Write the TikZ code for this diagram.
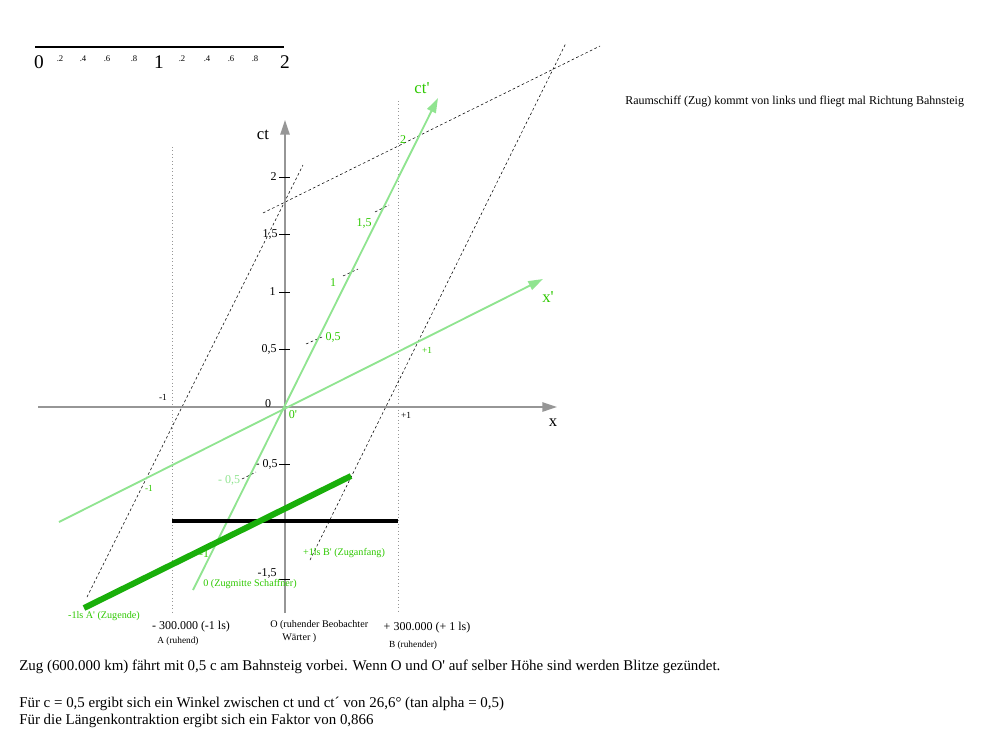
\documentclass[tikz,border=0pt]{standalone}
\usepackage{fontspec}
\setmainfont{Liberation Serif}
\newfontfamily\qfont{Liberation Serif}[Ligatures=TeXOff]
\usetikzlibrary{arrows.meta}
\definecolor{axgray}{RGB}{150,150,150}
\definecolor{lgreen}{RGB}{144,228,144}
\definecolor{tgreen}{RGB}{45,200,0}
\definecolor{dgreen}{RGB}{25,175,10}
\newcommand\sq{{\qfont'}}
\begin{document}
\begin{tikzpicture}[x=0.75pt,y=-0.75pt,
  every node/.style={inner sep=0pt},
  axis/.style={draw=axgray,line width=1.2pt,-{Triangle[length=11pt,width=7pt]}},
  gaxis/.style={draw=lgreen,line width=1.4pt,-{Triangle[length=11pt,width=7pt]}},
  simline/.style={draw=black,line width=0.4pt,dash pattern=on 2pt off 1.8pt},
  vdot/.style={draw=axgray,line width=0.6pt,dotted},
  tick/.style={draw=black,line width=0.6pt},
  f9/.style={font=\fontsize{9}{10}\selectfont},
  f7/.style={font=\fontsize{7}{8}\selectfont},
  f75/.style={font=\fontsize{7.6}{8.5}\selectfont},
  f12/.style={font=\fontsize{12.5}{13}\selectfont},
  glab/.style={text=tgreen}]
\useasboundingbox (0,0) rectangle (1000,750);
% scale
\coordinate (s0) at (35,47); \coordinate (s1) at (284,47);
\draw[line width=1.5pt] (s0) -- (s1);
\node[font=\fontsize{14.5}{15}\selectfont] (n0) at (39,62) {0};
\node[font=\fontsize{14.5}{15}\selectfont] (n1) at (159,62) {1};
\node[font=\fontsize{14.5}{15}\selectfont] (n2) at (285,62) {2};
\foreach \xx/\tt [count=\i] in {60/.2,83/.4,107/.6,134/.8,182/.2,207/.4,231/.6,255/.8}
  \node[font=\fontsize{6.5}{7}\selectfont] (sc\i) at (\xx,59) {\tt};
% top right text
\node[f9,anchor=west] (title) at (625,102) {Raumschiff (Zug) kommt von links und fliegt mal Richtung Bahnsteig};
% dotted verticals
\coordinate (va1) at (172,147); \coordinate (va2) at (172,613);
\coordinate (vb1) at (398,101); \coordinate (vb2) at (398,613);
\draw[vdot] (va1) -- (va2);
\draw[vdot] (vb1) -- (vb2);
% dashed lines
\coordinate (d1a) at (87,597); \coordinate (d1b) at (303,165);
\coordinate (d2a) at (310,560); \coordinate (d2b) at (566,43);
\coordinate (d3a) at (263,213); \coordinate (d3b) at (600,46);
\draw[simline] (d1a) -- (d1b);
\draw[simline] (d2a) -- (d2b);
\draw[simline] (d3a) -- (d3b);
\coordinate (t1a) at (306,344); \coordinate (t1b) at (322,337);
\coordinate (t2a) at (343,276); \coordinate (t2b) at (358,269);
\coordinate (t3a) at (375,212); \coordinate (t3b) at (389,205);
\coordinate (t4a) at (242,479); \coordinate (t4b) at (256,472);
\draw[simline] (t1a) -- (t1b);
\draw[simline] (t2a) -- (t2b);
\draw[simline] (t3a) -- (t3b);
\draw[simline] (t4a) -- (t4b);
% axes
\coordinate (xl) at (38,407); \coordinate (xr) at (557,407);
\coordinate (cb) at (285,613); \coordinate (cu) at (285,120);
\draw[axis] (xl) -- (xr);
\draw[axis] (cb) -- (cu);
\foreach \yy [count=\i] in {177,234,292,349,464,522,579}{
  \coordinate (tk\i a) at (279,\yy); \coordinate (tk\i b) at (290,\yy);
  \draw[tick] (tk\i a) -- (tk\i b);}
\node[f9,anchor=east] (y2) at (277,177) {2};
\node[f9,anchor=east] (y15) at (278,234) {1,5};
\node[f9,anchor=east] (y1) at (276,292) {1};
\node[f9,anchor=east] (y05) at (277,349) {0,5};
\node[f9,anchor=east] (ym05) at (278,464) {- 0,5};
\node[f9,anchor=east] (ym15) at (277,573) {-1,5};
\node[f9] (y0) at (268,404) {0};
\node[f12] (lct) at (263,135) {ct};
\node[f12] (lx) at (553,423) {x};
\node[f7] (xm1) at (163,397) {-1};
\node[f7] (xp1) at (406,415) {+1};
% green axes
\coordinate (cpa) at (193,590); \coordinate (cpb) at (438,98);
\coordinate (xpa) at (59,522); \coordinate (xpb) at (543,279);
\draw[gaxis] (cpa) -- (cpb);
\draw[gaxis] (xpa) -- (xpb);
\node[f12,glab] (lctp) at (422,88) {ct\sq};
\node[f12,glab] (lxp) at (548,297) {x\sq};
\node[f9,glab] (g0) at (293,415) {0\sq};
\node[f9,glab] (g05) at (333,337) {0,5};
\node[f9,glab] (g1) at (333,283) {1};
\node[f9,glab] (g15) at (364,223) {1,5};
\node[f9,glab] (g2) at (403,140) {2};
\node[f9,text=lgreen] (gm05) at (229,480) {- 0,5};
\node[f9,glab] (gm1) at (204,554) {-1};
\node[f7,glab] (gxp1) at (427,350) {+1};
\node[f7,glab] (gxm1) at (149,488) {-1};
% bars
\coordinate (ba) at (172,521); \coordinate (bb) at (398,521);
\draw[line width=3pt] (ba) -- (bb);
\coordinate (ga) at (84,608); \coordinate (gb) at (351,476);
\draw[draw=dgreen,line width=4.5pt] (ga) -- (gb);
% green labels
\node[f75,glab] (lA) at (104,616) {-1ls A\sq\ (Zugende)};
\node[f75,glab] (lS) at (250,584) {0 (Zugmitte Schaffner)};
\node[f75,glab] (lB) at (344,553) {+1ls B\sq\ (Zuganfang)};
% bottom labels
\node[f9] (bA) at (191,627) {- 300.000 (-1 ls)};
\node[f7] (bA2) at (178,641) {A (ruhend)};
\node[f75,anchor=west] (bO) at (270,625) {O (ruhender Beobachter};
\node[f75,anchor=west] (bO2) at (282,638) {Wärter )};
\node[f9] (bB) at (427,628) {+ 300.000 (+ 1 ls)};
\node[f7] (bB2) at (413,645) {B (ruhender)};
% text
\node[font=\fontsize{11.2}{12}\selectfont,anchor=west] (txt1) at (19,667) {Zug (600.000 km) fährt mit 0,5 c am Bahnsteig vorbei. Wenn O und O\sq\ auf selber Höhe sind werden Blitze gezündet.};
\node[font=\fontsize{11.2}{12}\selectfont,anchor=west] (txt2) at (19,704) {Für c = 0,5 ergibt sich ein Winkel zwischen ct und ct´ von 26,6° (tan alpha = 0,5)};
\node[font=\fontsize{11.2}{12}\selectfont,anchor=west] (txt3) at (19,721) {Für die Längenkontraktion ergibt sich ein Faktor von 0,866};
\end{tikzpicture}
\end{document}
